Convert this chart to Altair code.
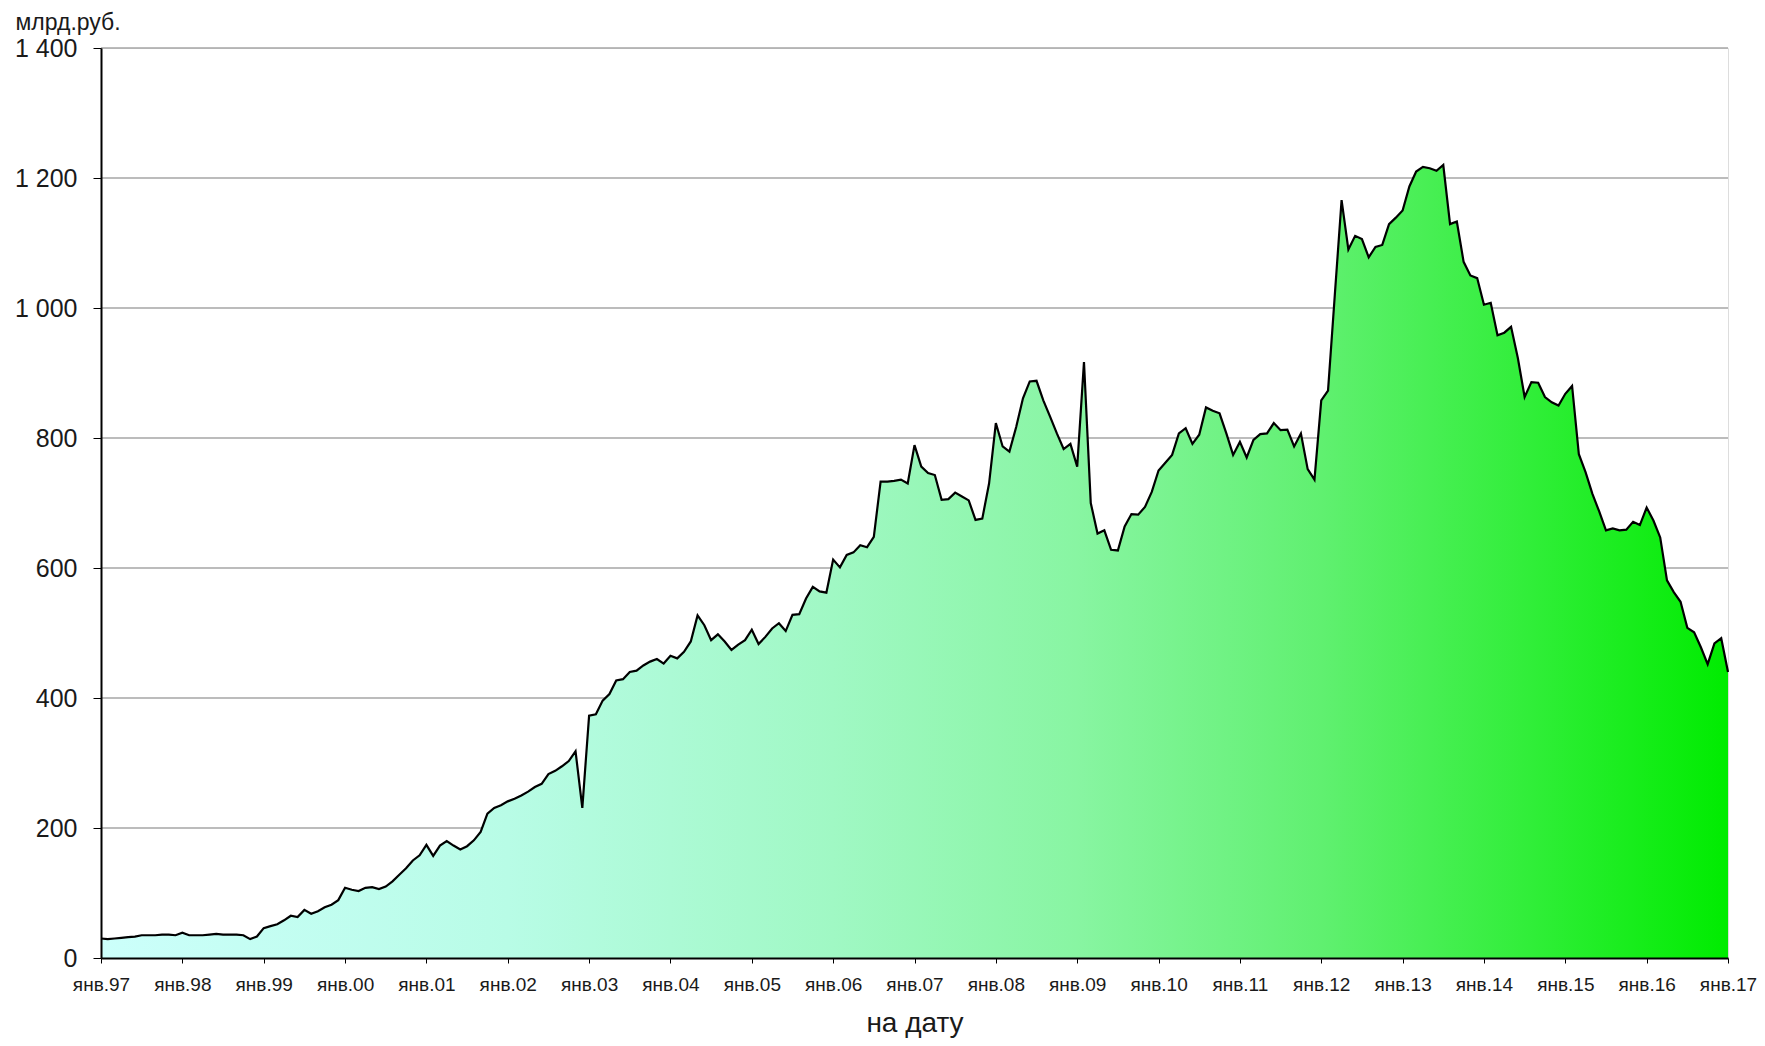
import altair as alt
import pandas as pd

# Monthly values, млрд.руб., Jan 1997 .. Jan 2017
y1997 = [30, 29, 30, 31, 32, 33, 35, 35, 35, 36, 36, 35]
y1998 = [39, 35, 35, 35, 36, 37, 36, 36, 36, 35, 29, 33]
y1999 = [46, 49, 52, 58, 65, 63, 74, 68, 72, 78, 82, 89]
y2000 = [108, 105, 103, 108, 109, 106, 110, 118, 128, 138, 150, 158]
y2001 = [174, 157, 173, 180, 173, 167, 172, 181, 194, 222, 231, 235]
y2002 = [241, 245, 250, 256, 263, 268, 283, 288, 295, 303, 318, 231]
y2003 = [373, 375, 396, 406, 427, 429, 440, 442, 450, 456, 460, 453]
y2004 = [465, 461, 471, 487, 527, 512, 489, 498, 487, 474, 482, 489]
y2005 = [505, 483, 494, 507, 515, 503, 528, 529, 553, 571, 564, 562]
y2006 = [613, 601, 620, 624, 635, 632, 648, 733, 733, 734, 736, 730]
y2007 = [789, 756, 746, 743, 705, 706, 716, 710, 704, 674, 676, 730]
y2008 = [823, 787, 779, 817, 861, 887, 888, 858, 833, 807, 783, 791]
y2009 = [756, 917, 700, 653, 658, 628, 627, 664, 683, 682, 694, 717]
y2010 = [750, 762, 774, 807, 815, 791, 805, 847, 842, 838, 807, 774]
y2011 = [794, 770, 797, 806, 807, 823, 812, 813, 787, 807, 752, 736]
y2012 = [858, 873, 1020, 1166, 1090, 1111, 1106, 1078, 1094, 1097, 1129, 1139]
y2013 = [1150, 1187, 1210, 1217, 1215, 1211, 1220, 1129, 1133, 1071, 1050, 1046]
y2014 = [1005, 1008, 958, 962, 971, 923, 863, 886, 885, 863, 855, 850]
y2015 = [868, 880, 775, 747, 714, 687, 658, 661, 658, 659, 671, 666]
y2016 = [693, 673, 647, 581, 563, 548, 508, 501, 478, 452, 484, 492]
y2017 = [440]

grid_values = [200, 400, 600, 800, 1000, 1200, 1400]
year_ticks = list(range(0, 241, 12))  # month index of each January

values = (y1997 + y1998 + y1999 + y2000 + y2001 + y2002 + y2003 + y2004 + y2005
          + y2006 + y2007 + y2008 + y2009 + y2010 + y2011 + y2012 + y2013
          + y2014 + y2015 + y2016 + y2017)
df = pd.DataFrame({"m": list(range(len(values))), "v": values})
grid_df = pd.DataFrame({"g": grid_values})

FONT = "Liberation Sans"
TXT = "#1a1a1a"

x_scale = alt.Scale(domain=[0, 240], nice=False, zero=False)
y_scale = alt.Scale(domain=[0, 1400], nice=False)

x_axis = alt.Axis(
    values=year_ticks,
    labelExpr="'янв.' + slice('0' + ((97 + datum.value / 12) % 100), -2)",
    title="на дату",
    titleFontSize=28, titleFontWeight="normal", titleColor=TXT, titleFont=FONT,
    titleY=73, titleBaseline="alphabetic",
    labelFontSize=19, labelColor=TXT, labelFont=FONT, labelPadding=12,
    labelFlush=False, labelOverlap=False,
    tickSize=5, tickColor="#000000", tickWidth=1,
    domainColor="#000000", domainWidth=2,
    grid=False, zindex=1,
)
y_axis = alt.Axis(
    values=[0] + grid_values,
    labelExpr="replace(format(datum.value, ','), ',', ' ')",
    title="млрд.руб.",
    titleAngle=0, titleX=-86, titleY=-19, titleAlign="left",
    titleBaseline="alphabetic",
    titleFontSize=23, titleFontWeight="normal", titleColor=TXT, titleFont=FONT,
    labelFontSize=25, labelColor=TXT, labelFont=FONT, labelPadding=16,
    labelFlush=False, labelOverlap=False,
    tickSize=8, tickColor="#000000", tickWidth=1,
    domainColor="#000000", domainWidth=2,
    grid=False, zindex=1,
)

gradient = alt.LinearGradient(
    gradient="linear",
    stops=[
        alt.GradientStop(color="#ccfffb", offset=0.0),
        alt.GradientStop(color="#b8fce6", offset=0.25),
        alt.GradientStop(color="#a0f8c4", offset=0.45),
        alt.GradientStop(color="#88f5a2", offset=0.6),
        alt.GradientStop(color="#60f070", offset=0.75),
        alt.GradientStop(color="#30ee38", offset=0.88),
        alt.GradientStop(color="#00ec00", offset=1.0),
    ],
    x1=0, x2=1, y1=0, y2=0,
)

grid = alt.Chart(grid_df).mark_rule(color="#a6a6a6", strokeWidth=1.3).encode(
    y=alt.Y("g:Q", scale=y_scale, axis=y_axis)
)

area = alt.Chart(df).mark_area(color=gradient, opacity=1).encode(
    x=alt.X("m:Q", scale=x_scale, axis=x_axis),
    y=alt.Y("v:Q", scale=y_scale, axis=y_axis),
)

line = alt.Chart(df).mark_line(color="#000000", strokeWidth=2.2).encode(
    x=alt.X("m:Q", scale=x_scale, axis=x_axis),
    y=alt.Y("v:Q", scale=y_scale, axis=y_axis),
)

chart = (
    alt.layer(grid, area, line)
    .properties(
        width=1627,
        height=910,
        autosize=alt.AutoSizeParams(type="none"),
        padding={"left": 93, "top": 40, "right": 29, "bottom": 80},
        background="#ffffff",
    )
    .configure_view(stroke="#a0a0a0", strokeWidth=1.3)
    .configure(font=FONT)
)

chart.save("out.html", embed_options={"renderer": "svg", "actions": False})
